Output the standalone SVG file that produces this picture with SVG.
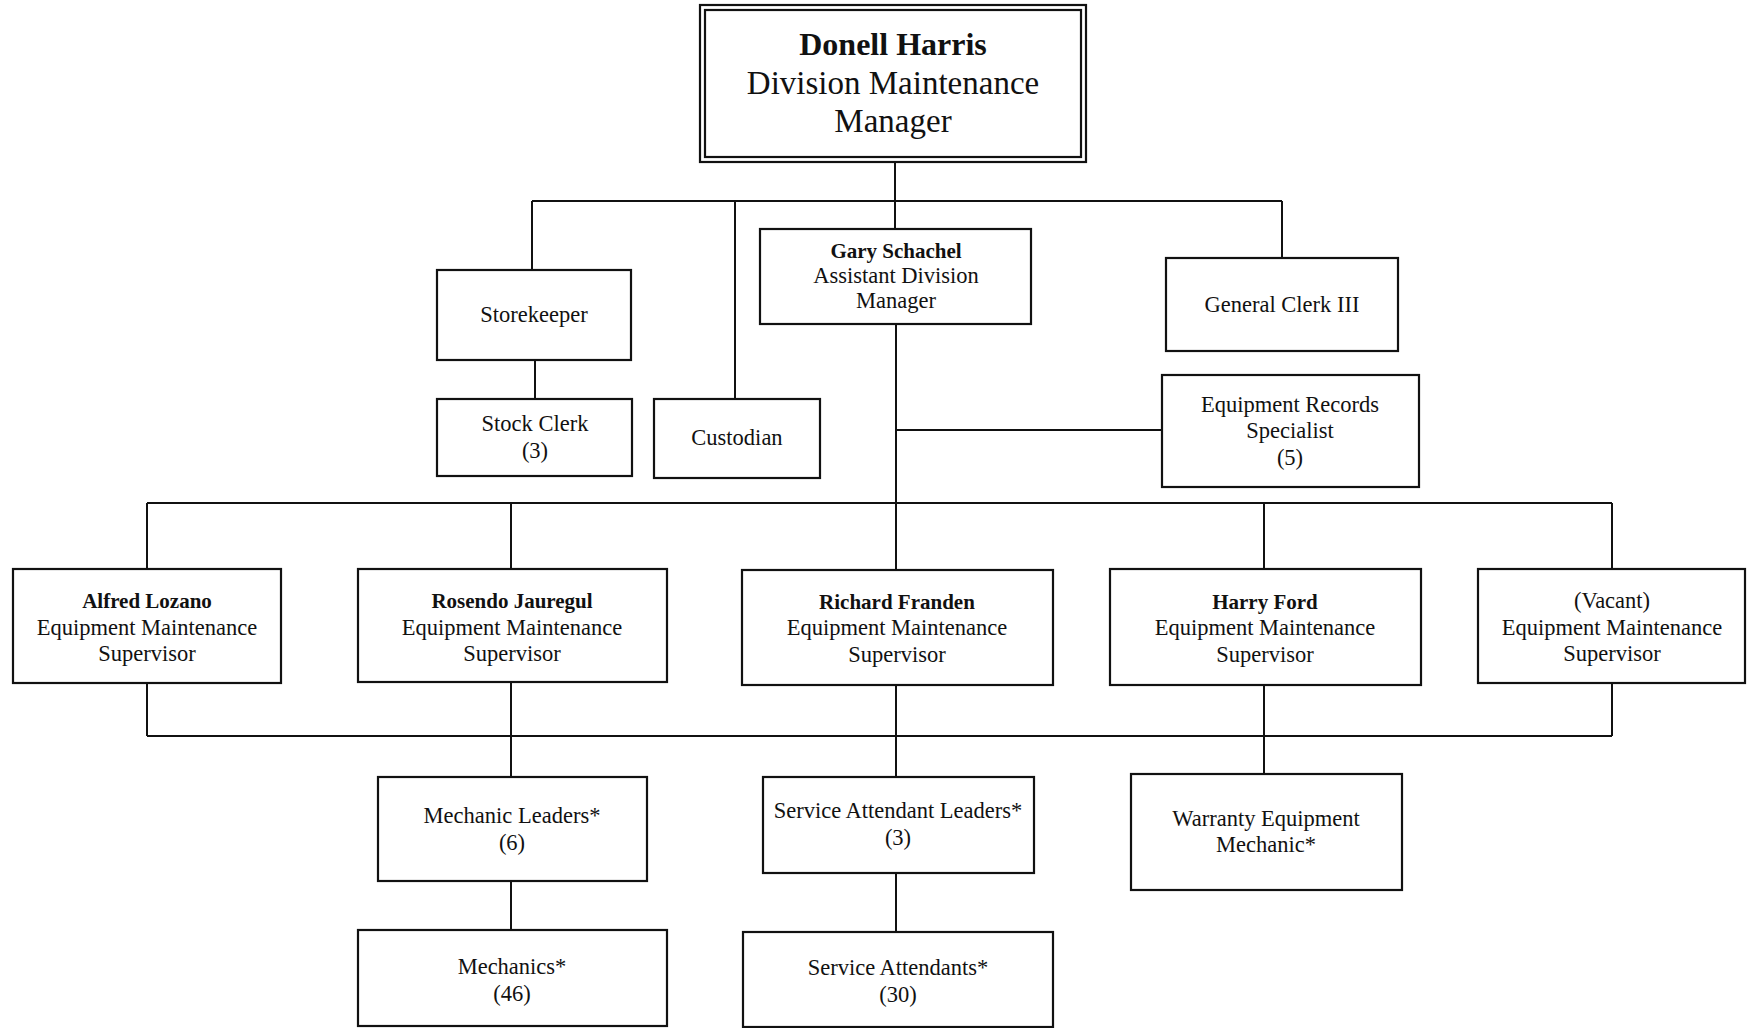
<svg xmlns="http://www.w3.org/2000/svg" width="1754" height="1028" viewBox="0 0 1754 1028">
<style>
.box{fill:#fff;stroke:#111;stroke-width:2.2}
.ln{fill:none;stroke:#111;stroke-width:2}
text{font-family:"Liberation Serif","Times New Roman",serif;fill:#111;text-anchor:middle;font-size:22.5px}
.b{font-weight:bold;font-size:21px}
.big{font-size:33px}
.big.b{font-size:32px}
</style>
<rect width="1754" height="1028" fill="#fff"/>
<g id="connectors">
<path class="ln" d="M895 162V201M532 201H1282M532 201V270M535 360V399M735 201V399M895 201V229M1282 201V258M896 324V503M896 430H1162M147 503H1612M147 503V569M511 503V569M896 503V570M1264 503V569M1612 503V569"/>
<path class="ln" d="M147 683V736M511 682V736M896 685V736M1264 685V736M1612 683V736M147 736H1612M511 736V777M511 881V930M896 736V777M896 873V932M1264 736V774"/>
</g>
<g id="n-harris">
<rect class="box" x="700" y="5" width="386" height="157"/>
<rect class="box" x="705" y="10" width="376" height="147"/>
<text class="big b" x="893" y="55">Donell Harris</text>
<text class="big" x="893" y="94">Division Maintenance</text>
<text class="big" x="893" y="132">Manager</text>
</g>
<g id="n-storekeeper">
<rect class="box" x="437" y="270" width="194" height="90"/>
<text x="534" y="322">Storekeeper</text>
</g>
<g id="n-stockclerk">
<rect class="box" x="437" y="399" width="195" height="77"/>
<text x="535" y="431">Stock Clerk</text>
<text x="535" y="458">(3)</text>
</g>
<g id="n-custodian">
<rect class="box" x="654" y="399" width="166" height="79"/>
<text x="737" y="445">Custodian</text>
</g>
<g id="n-schachel">
<rect class="box" x="760" y="229" width="271" height="95"/>
<text class="b" x="896" y="258">Gary Schachel</text>
<text x="896" y="283">Assistant Division</text>
<text x="896" y="308">Manager</text>
</g>
<g id="n-genclerk">
<rect class="box" x="1166" y="258" width="232" height="93"/>
<text x="1282" y="312">General Clerk III</text>
</g>
<g id="n-records">
<rect class="box" x="1162" y="375" width="257" height="112"/>
<text x="1290" y="412">Equipment Records</text>
<text x="1290" y="438">Specialist</text>
<text x="1290" y="465">(5)</text>
</g>
<g id="n-lozano">
<rect class="box" x="13" y="569" width="268" height="114"/>
<text class="b" x="147" y="608">Alfred Lozano</text>
<text x="147" y="635">Equipment Maintenance</text>
<text x="147" y="661">Supervisor</text>
</g>
<g id="n-jauregul">
<rect class="box" x="358" y="569" width="309" height="113"/>
<text class="b" x="512" y="608">Rosendo Jauregul</text>
<text x="512" y="635">Equipment Maintenance</text>
<text x="512" y="661">Supervisor</text>
</g>
<g id="n-franden">
<rect class="box" x="742" y="570" width="311" height="115"/>
<text class="b" x="897" y="609">Richard Franden</text>
<text x="897" y="635">Equipment Maintenance</text>
<text x="897" y="662">Supervisor</text>
</g>
<g id="n-ford">
<rect class="box" x="1110" y="569" width="311" height="116"/>
<text class="b" x="1265" y="609">Harry Ford</text>
<text x="1265" y="635">Equipment Maintenance</text>
<text x="1265" y="662">Supervisor</text>
</g>
<g id="n-vacant">
<rect class="box" x="1478" y="569" width="267" height="114"/>
<text x="1612" y="608">(Vacant)</text>
<text x="1612" y="635">Equipment Maintenance</text>
<text x="1612" y="661">Supervisor</text>
</g>
<g id="n-mechleaders">
<rect class="box" x="378" y="777" width="269" height="104"/>
<text x="512" y="823">Mechanic Leaders*</text>
<text x="512" y="850">(6)</text>
</g>
<g id="n-mechanics">
<rect class="box" x="358" y="930" width="309" height="96"/>
<text x="512" y="974">Mechanics*</text>
<text x="512" y="1001">(46)</text>
</g>
<g id="n-saleaders">
<rect class="box" x="763" y="777" width="271" height="96"/>
<text x="898" y="818">Service Attendant Leaders*</text>
<text x="898" y="845">(3)</text>
</g>
<g id="n-attendants">
<rect class="box" x="743" y="932" width="310" height="95"/>
<text x="898" y="975">Service Attendants*</text>
<text x="898" y="1002">(30)</text>
</g>
<g id="n-warranty">
<rect class="box" x="1131" y="774" width="271" height="116"/>
<text x="1266" y="826">Warranty Equipment</text>
<text x="1266" y="852">Mechanic*</text>
</g>
</svg>
